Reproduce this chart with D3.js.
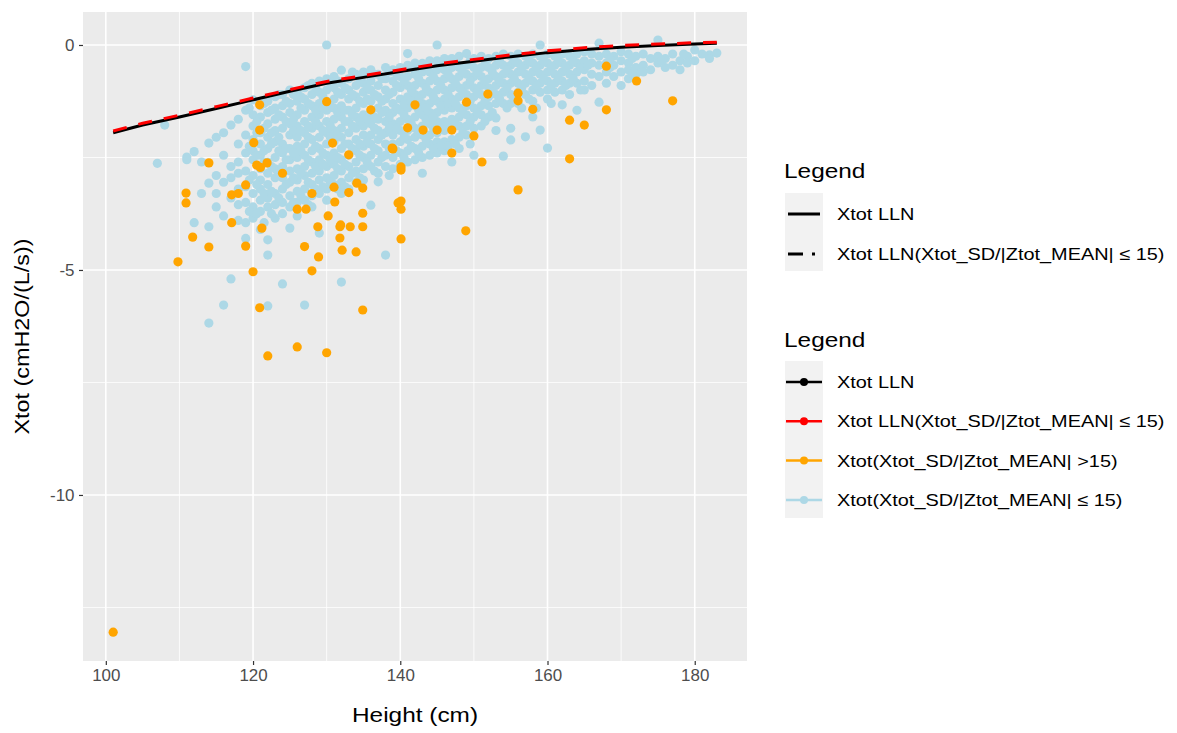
<!DOCTYPE html>
<html>
<head>
<meta charset="utf-8">
<script src="https://cdn.jsdelivr.net/npm/d3@7"></script>
<style>
  body { margin: 0; background: #fff; }
  text { font-family: "Liberation Sans", Arial, sans-serif; }
</style>
</head>
<body>
<svg id="chart" width="1177" height="733"></svg>
<script>
// tick labels
const xTicks = [100, 120, 140, 160, 180];
const xMinor = [110, 130, 150, 170];
const yTicks = [0, -5, -10];
const yMinor = [-2.5, -7.5, -12.5];

// LLN curves
const llnHeights = [101, 105, 110, 115, 120, 125, 130, 135, 140, 145, 150, 155, 160, 165, 170, 175, 180, 183];
const llnBlack = [-1.95, -1.78, -1.6, -1.41, -1.22, -1.03, -0.85, -0.72, -0.59, -0.46, -0.36, -0.26, -0.17, -0.1, -0.05, -0.01, 0.02, 0.04];
const llnRed = [-1.91, -1.74, -1.56, -1.37, -1.18, -0.99, -0.81, -0.68, -0.55, -0.42, -0.32, -0.22, -0.13, -0.06, -0.01, 0.02, 0.05, 0.06];

// Xtot(Xtot_SD/|Ztot_MEAN| >15) points: [height, xtot]
const orangePoints = [
  [101, -13.05],
  [110.9, -3.29], [110.9, -3.51], [109.8, -4.82], [111.8, -4.27], [114, -4.49], [114, -2.62],
  [117.1, -3.33], [119, -3.11], [118, -3.3],
  [120.9, -1.33], [120.9, -1.89], [120.1, -2.17], [120.5, -2.67], [121.9, -2.62], [121, -2.72],
  [117.1, -3.95], [119, -4.47], [121.2, -4.07], [124, -2.85], [126, -3.65], [127.2, -3.65], [128, -3.3],
  [130, -1.26], [130.8, -2.18], [130.2, -3.8], [131.1, -3.49], [133, -2.44], [133, -3.28], [134.9, -3.74],
  [136, -1.44], [138.9, -2.29], [134.1, -3.07], [131.8, -4.04], [131.8, -4.29], [133.2, -4.04], [134.9, -4.04],
  [139.7, -3.51], [128.8, -4.04], [127, -4.48], [128.9, -4.71], [128, -5.02], [132.1, -4.56], [134, -4.6],
  [140.1, -4.31], [120, -5.04], [120.9, -5.84], [134.9, -5.89], [122, -6.91], [126, -6.71], [130, -6.84],
  [131, -3.16], [134.9, -3.18], [131.9, -4.0], [140.1, -3.47], [140.1, -3.65], [148.9, -4.13], [140.1, -2.78],
  [151.9, -1.09], [156, -1.07], [156, -1.24], [158, -1.43], [163, -1.67], [165, -1.78], [168, -1.44],
  [168, -0.47], [172.1, -0.8], [177, -1.24], [163, -2.53], [151.1, -2.6], [156, -3.22],
  [142, -1.33], [141, -1.84], [143.1, -1.89], [145, -1.89], [147, -1.89], [150, -2.02], [147, -2.4],
  [139, -2.31], [140.1, -2.71], [149, -1.27]
];

// Xtot(Xtot_SD/|Ztot_MEAN| <= 15) points, grouped by height: [height, [xtot...]]
const blueColumns = [
  [107, [-2.63]],
  [108, [-1.78]],
  [111, [-2.49, -2.55]],
  [112, [-2.37, -3.95]],
  [113, [-2.6, -3.3]],
  [114, [-2.18, -3.07, -4.04, -6.18]],
  [115, [-2.05, -2.9, -3.3, -3.6]],
  [116, [-1.95, -2.45, -3.05, -3.8, -5.78]],
  [117, [-1.78, -2.7, -2.95, -3.4, -5.2]],
  [118, [-1.65, -2.2, -2.6, -2.85, -3.2, -3.55, -3.9]],
  [119, [-0.48, -1.45, -2.0, -2.4, -2.8, -3.15, -3.5, -3.95, -4.3]],
  [120, [-1.22, -1.55, -1.8, -2.1, -2.35, -2.55, -2.9, -3.3, -3.6, -3.85]],
  [121, [-1.35, -1.6, -1.95, -2.2, -2.45, -2.75, -3.0, -3.2, -3.45, -3.7, -4.1]],
  [122, [-1.25, -1.5, -1.75, -2.05, -2.3, -2.6, -2.85, -3.1, -3.4, -3.6, -4.33, -4.67, -5.8]],
  [123, [-1.15, -1.4, -1.65, -1.9, -2.15, -2.5, -2.75, -2.95, -3.3, -3.55, -3.85]],
  [124, [-1.1, -1.35, -1.6, -1.85, -2.2, -2.4, -2.7, -2.95, -3.2, -3.5, -3.75, -5.31]],
  [125, [-1.0, -1.3, -1.5, -1.75, -2.0, -2.3, -2.55, -2.8, -3.05, -3.35, -3.6, -4.07]],
  [126, [-1.05, -1.25, -1.55, -1.8, -2.05, -2.25, -2.5, -2.75, -3.0, -3.25, -3.5, -3.8]],
  [127, [-0.95, -1.2, -1.45, -1.7, -1.95, -2.2, -2.45, -2.7, -2.9, -3.2, -3.45, -5.78]],
  [128, [-0.85, -1.1, -1.35, -1.6, -1.85, -2.1, -2.35, -2.6, -2.85, -3.1, -3.35, -3.6]],
  [129, [-0.8, -1.05, -1.3, -1.55, -1.8, -2.05, -2.3, -2.55, -2.8, -3.0, -3.3, -4.18]],
  [130, [0.0, -0.75, -1.0, -1.25, -1.45, -1.7, -1.95, -2.2, -2.45, -2.7, -2.95, -3.2, -3.45]],
  [131, [-0.7, -0.95, -1.2, -1.4, -1.65, -1.9, -2.15, -2.4, -2.65, -2.9, -3.1]],
  [132, [-0.56, -0.85, -1.1, -1.35, -1.6, -1.85, -2.05, -2.3, -2.55, -2.8, -3.05, -3.3, -5.27]],
  [133, [-0.75, -1.0, -1.2, -1.45, -1.7, -1.95, -2.2, -2.45, -2.7, -2.95, -3.2]],
  [134, [-0.65, -0.9, -1.15, -1.4, -1.6, -1.85, -2.1, -2.35, -2.6, -2.8, -3.05]],
  [135, [-0.6, -0.85, -1.05, -1.3, -1.55, -1.8, -2.0, -2.25, -2.5, -2.75, -3.0]],
  [136, [-0.55, -0.8, -1.0, -1.25, -1.5, -1.75, -2.0, -2.2, -2.45, -2.7, -3.56]],
  [137, [-0.65, -0.9, -1.15, -1.4, -1.65, -1.9, -2.1, -2.35, -2.6, -2.85, -3.04]],
  [138, [-0.5, -0.75, -1.0, -1.2, -1.45, -1.7, -1.95, -2.2, -2.45, -2.7, -4.67]],
  [139, [-0.55, -0.8, -1.05, -1.3, -1.5, -1.75, -2.0, -2.2, -2.5, -2.75]],
  [140, [-0.5, -0.7, -0.95, -1.2, -1.45, -1.7, -1.9, -2.15, -2.4, -2.65]],
  [141, [-0.19, -0.45, -0.7, -0.9, -1.15, -1.4, -1.65, -1.9, -2.1, -2.35, -2.6]],
  [142, [-0.4, -0.65, -0.9, -1.1, -1.35, -1.6, -1.85, -2.05, -2.3, -2.55]],
  [143, [-0.41, -0.6, -0.85, -1.1, -1.3, -1.55, -1.8, -2.0, -2.25, -2.5, -2.85]],
  [144, [-0.35, -0.6, -0.8, -1.05, -1.3, -1.5, -1.75, -2.0, -2.2, -2.45]],
  [145, [0.0, -0.35, -0.55, -0.8, -1.0, -1.25, -1.5, -1.7, -1.95, -2.15, -2.4]],
  [146, [-0.3, -0.55, -0.75, -1.0, -1.2, -1.45, -1.7, -1.9, -2.15, -2.35]],
  [147, [-0.3, -0.5, -0.75, -0.95, -1.2, -1.4, -1.65, -1.85, -2.1, -2.6]],
  [148, [-0.25, -0.5, -0.7, -0.95, -1.15, -1.4, -1.6, -1.8, -2.05, -2.3]],
  [149, [-0.19, -0.45, -0.65, -0.9, -1.1, -1.35, -1.55, -1.8, -2.0]],
  [150, [-0.3, -0.5, -0.7, -0.95, -1.15, -1.4, -1.6, -1.85, -2.45]],
  [151, [-0.25, -0.5, -0.7, -0.9, -1.1, -1.35, -1.55, -1.8]],
  [152, [-0.3, -0.5, -0.75, -0.95, -1.15, -1.35, -1.6]],
  [153, [-0.25, -0.45, -0.7, -0.9, -1.1, -1.3, -1.62, -1.9]],
  [154, [-0.2, -0.45, -0.65, -0.85, -1.05, -1.3, -2.47]],
  [155, [-0.25, -0.45, -0.65, -0.85, -1.1, -1.3, -1.85, -2.11]],
  [156, [-0.2, -0.4, -0.6, -0.85, -1.05, -1.3]],
  [157, [-0.25, -0.45, -0.65, -0.85, -1.1, -2.04]],
  [158, [-0.2, -0.4, -0.6, -0.8, -1.0, -1.25, -1.6]],
  [159, [0.0, -0.25, -0.45, -0.65, -0.85, -1.05, -1.89]],
  [160, [-0.2, -0.4, -0.6, -0.8, -1.0, -1.2, -2.29]],
  [161, [-0.25, -0.45, -0.65, -0.85, -1.05]],
  [162, [-0.2, -0.4, -0.6, -0.8, -1.0, -1.33]],
  [163, [-0.25, -0.45, -0.65, -0.85, -1.1]],
  [164, [-0.2, -0.4, -0.6, -0.85, -1.45]],
  [165, [-0.15, -0.35, -0.55, -0.8, -1.0]],
  [166, [-0.2, -0.4, -0.65, -0.9]],
  [167, [0.04, -0.25, -0.45, -0.7, -1.27]],
  [168, [-0.2, -0.4, -0.6, -0.85]],
  [169, [-0.25, -0.45, -0.7]],
  [170, [-0.15, -0.35, -0.6, -0.9]],
  [171, [-0.2, -0.4, -0.55, -0.75]],
  [172, [-0.25, -0.5, -0.65]],
  [173, [-0.2, -0.45, -0.6]],
  [174, [-0.3, -0.55]],
  [175, [0.11, -0.25, -0.4]],
  [176, [-0.3, -0.5]],
  [177, [-0.2, -0.45]],
  [178, [-0.35, -0.55]],
  [179, [-0.25, -0.4]],
  [180, [-0.11, -0.35]],
  [181, [-0.2]],
  [182, [-0.22, -0.3]],
  [183, [-0.18]]
];

// same group, subjects measured at half-centimetre heights
const blueColumnsHalf = [
  [119.5, [-1.4, -2.25, -3.0, -3.7]],
  [120.5, [-1.7, -1.95, -2.45, -3.1, -3.75]],
  [121.5, [-1.3, -1.85, -2.35, -2.6, -3.3, -3.95]],
  [122.5, [-1.45, -1.95, -2.2, -2.7, -3.25, -3.75]],
  [123.5, [-1.1, -1.55, -2.05, -2.35, -2.85, -3.4]],
  [124.5, [-1.25, -1.7, -2.3, -2.55, -3.1]],
  [125.5, [-1.1, -1.65, -1.9, -2.4, -2.95, -3.5]],
  [126.5, [-1.15, -1.4, -1.9, -2.35, -2.85, -3.35]],
  [127.5, [-0.9, -1.3, -1.8, -2.05, -2.55, -3.05, -3.55]],
  [128.5, [-0.95, -1.45, -1.7, -2.25, -2.7, -3.2]],
  [129.5, [-1.15, -1.4, -1.9, -2.4, -2.65, -3.15]],
  [130.5, [-0.85, -1.35, -1.8, -2.05, -2.55, -3.05]],
  [131.5, [-0.8, -1.05, -1.5, -2.0, -2.5, -2.75, -3.2]],
  [132.5, [-0.95, -1.45, -1.7, -2.2, -2.65, -3.15]],
  [133.5, [-0.6, -1.1, -1.55, -1.8, -2.3, -2.85]],
  [134.5, [-0.75, -1.25, -1.7, -2.2, -2.45, -2.95]],
  [135.5, [-0.95, -1.2, -1.65, -2.15, -2.6]],
  [136.5, [-0.65, -1.1, -1.6, -1.85, -2.3, -2.8]],
  [137.5, [-0.75, -1.25, -1.5, -2.0, -2.5]],
  [138.5, [-0.6, -1.1, -1.6, -1.85, -2.3, -2.9]],
  [139.5, [-0.65, -0.9, -1.4, -1.85, -2.35]],
  [140.5, [-0.8, -1.3, -1.55, -2.05, -2.5]],
  [141.5, [-0.5, -1.0, -1.25, -1.75, -2.25]],
  [142.5, [-0.75, -1.2, -1.45, -1.95, -2.4]],
  [143.5, [-0.45, -0.95, -1.4, -1.65, -2.1]],
  [144.5, [-0.7, -1.15, -1.6, -1.85, -2.3]],
  [145.5, [-0.4, -0.9, -1.35, -1.8, -2.25]],
  [146.5, [-0.65, -1.1, -1.3, -1.8, -2.25]],
  [147.5, [-0.35, -0.85, -1.3, -1.75, -2.2]],
  [148.5, [-0.6, -1.05, -1.5, -1.95]],
  [149.5, [-0.35, -0.8, -1.25, -1.7, -2.2]],
  [150.5, [-0.6, -1.05, -1.5]],
  [151.5, [-0.35, -0.8, -1.25, -1.7]],
  [152.5, [-0.6, -1.05, -1.5]],
  [153.5, [-0.35, -0.8, -1.2]],
  [154.5, [-0.55, -0.95, -1.4]],
  [155.5, [-0.35, -0.75, -1.2]],
  [156.5, [-0.5, -0.95, -1.4]],
  [157.5, [-0.35, -0.75, -1.2]],
  [158.5, [-0.5, -0.9, -1.4]],
  [159.5, [-0.35, -0.75]],
  [160.5, [-0.5, -0.9, -1.3]],
  [161.5, [-0.35, -0.75]],
  [162.5, [-0.5, -0.9]],
  [163.5, [-0.35, -0.75]],
  [164.5, [-0.5, -1.0]],
  [165.5, [-0.45]],
  [168.5, [-0.3, -0.5]],
  [171.5, [-0.3, -0.65]],
  [175.5, [-0.35]],
  [178.5, [-0.2]]
];

const lineLegend = ["Xtot LLN", "Xtot LLN(Xtot_SD/|Ztot_MEAN| \u2264 15)"];
const colourLegend = [
  "Xtot LLN",
  "Xtot LLN(Xtot_SD/|Ztot_MEAN| \u2264 15)",
  "Xtot(Xtot_SD/|Ztot_MEAN| >15)",
  "Xtot(Xtot_SD/|Ztot_MEAN| \u2264 15)"
];
const colourValues = ["#000000", "#FF0000", "#FFA500", "#ADD8E6"];

(function drawChart() {
    const svg = d3.select("#chart");

    // panel box
    const panel = { left: 83, right: 747, top: 12, bottom: 661 };

    const x = d3.scaleLinear()
        .domain([96.9, 187.1])
        .range([panel.left, panel.right]);

    const y = d3.scaleLinear()
        .domain([-13.69, 0.733])
        .range([panel.bottom, panel.top]);

    // text helper: the original renders its glyphs a bit wider than Liberation Sans
    function addText(g, px, py, str, size, sx, rotate) {
        return g.append("text")
            .attr("transform", `translate(${px},${py})${rotate ? " rotate(-90)" : ""} scale(${sx},1)`)
            .style("font-size", size + "px")
            .attr("fill", "#000")
            .text(str);
    }

    // panel background
    svg.append("rect")
        .attr("x", panel.left)
        .attr("y", panel.top)
        .attr("width", panel.right - panel.left)
        .attr("height", panel.bottom - panel.top)
        .attr("fill", "#EBEBEB");

    // grid lines
    const grid = svg.append("g");
    xMinor.forEach(v => grid.append("line")
        .attr("x1", x(v)).attr("x2", x(v))
        .attr("y1", panel.top).attr("y2", panel.bottom)
        .attr("stroke", "#fff").attr("stroke-width", 0.8));
    yMinor.forEach(v => grid.append("line")
        .attr("x1", panel.left).attr("x2", panel.right)
        .attr("y1", y(v)).attr("y2", y(v))
        .attr("stroke", "#fff").attr("stroke-width", 0.8));
    xTicks.forEach(v => grid.append("line")
        .attr("x1", x(v)).attr("x2", x(v))
        .attr("y1", panel.top).attr("y2", panel.bottom)
        .attr("stroke", "#fff").attr("stroke-width", 1.6));
    yTicks.forEach(v => grid.append("line")
        .attr("x1", panel.left).attr("x2", panel.right)
        .attr("y1", y(v)).attr("y2", y(v))
        .attr("stroke", "#fff").attr("stroke-width", 1.6));

    // axes
    const xAxis = svg.append("g")
        .attr("transform", `translate(0,${panel.bottom})`)
        .call(d3.axisBottom(x).tickValues(xTicks).tickSize(4).tickPadding(5));
    const yAxis = svg.append("g")
        .attr("transform", `translate(${panel.left},0)`)
        .call(d3.axisLeft(y).tickValues(yTicks).tickSize(4).tickPadding(4).tickFormat(d => String(d)));

    [xAxis, yAxis].forEach(a => {
        a.select(".domain").remove();
        a.selectAll(".tick line").attr("stroke", "#333").attr("stroke-width", 1.2);
        a.selectAll(".tick text")
            .attr("fill", "#4D4D4D")
            .attr("transform", "scale(1.06,1)")
            .style("font-size", "16px")
            .style("font-family", "'Liberation Sans', Arial, sans-serif");
    });

    // axis titles
    addText(svg, (panel.left + panel.right) / 2, 722, "Height (cm)", 20, 1.22)
        .attr("text-anchor", "middle");
    addText(svg, 29, (panel.top + panel.bottom) / 2, "Xtot (cmH2O/(L/s))", 20, 1.17, true)
        .attr("text-anchor", "middle");

    // points
    const bluePoints = blueColumns.concat(blueColumnsHalf)
        .flatMap(([h, vals]) => vals.map(v => [h, v]));
    const pts = svg.append("g");
    pts.selectAll(".blue")
        .data(bluePoints)
        .enter().append("circle")
        .attr("class", "blue")
        .attr("cx", d => x(d[0]))
        .attr("cy", d => y(d[1]))
        .attr("r", 4.6)
        .attr("fill", "#ADD8E6");

    pts.selectAll(".orange")
        .data(orangePoints)
        .enter().append("circle")
        .attr("class", "orange")
        .attr("cx", d => x(d[0]))
        .attr("cy", d => y(d[1]))
        .attr("r", 4.6)
        .attr("fill", "#FFA500");

    // LLN lines
    const line = d3.line()
        .x(d => x(d[0]))
        .y(d => y(d[1]));

    svg.append("path")
        .datum(llnHeights.map((h, i) => [h, llnBlack[i]]))
        .attr("d", line)
        .attr("fill", "none")
        .attr("stroke", "#000")
        .attr("stroke-width", 3);

    svg.append("path")
        .datum(llnHeights.map((h, i) => [h, llnRed[i]]))
        .attr("d", line)
        .attr("fill", "none")
        .attr("stroke", "#FF0000")
        .attr("stroke-width", 3)
        .attr("stroke-dasharray", "14 12");

    // legend 1: linetype
    const lg1 = svg.append("g");
    addText(lg1, 784, 178, "Legend", 20, 1.22);
    lg1.append("rect")
        .attr("x", 785).attr("y", 193)
        .attr("width", 38).attr("height", 78)
        .attr("fill", "#F2F2F2");
    lineLegend.forEach((name, i) => {
        const cy = 214 + i * 40;
        lg1.append("line")
            .attr("x1", 788).attr("x2", 820)
            .attr("y1", cy).attr("y2", cy)
            .attr("stroke", "#000")
            .attr("stroke-width", 3)
            .attr("stroke-dasharray", i === 0 ? null : "15 9 3 100");
        addText(lg1, 837, cy + 6, name, 17, 1.17);
    });

    // legend 2: colour
    const lg2 = svg.append("g");
    addText(lg2, 784, 347, "Legend", 20, 1.22);
    lg2.append("rect")
        .attr("x", 785).attr("y", 361)
        .attr("width", 38).attr("height", 157)
        .attr("fill", "#F2F2F2");
    colourLegend.forEach((name, i) => {
        const cy = 382 + i * 39.3;
        lg2.append("line")
            .attr("x1", 786).attr("x2", 822)
            .attr("y1", cy).attr("y2", cy)
            .attr("stroke", colourValues[i])
            .attr("stroke-width", 2.5);
        lg2.append("circle")
            .attr("cx", 804).attr("cy", cy)
            .attr("r", 4)
            .attr("fill", colourValues[i]);
        addText(lg2, 837, cy + 6, name, 17, 1.17);
    });
})();
</script>
</body>
</html>
